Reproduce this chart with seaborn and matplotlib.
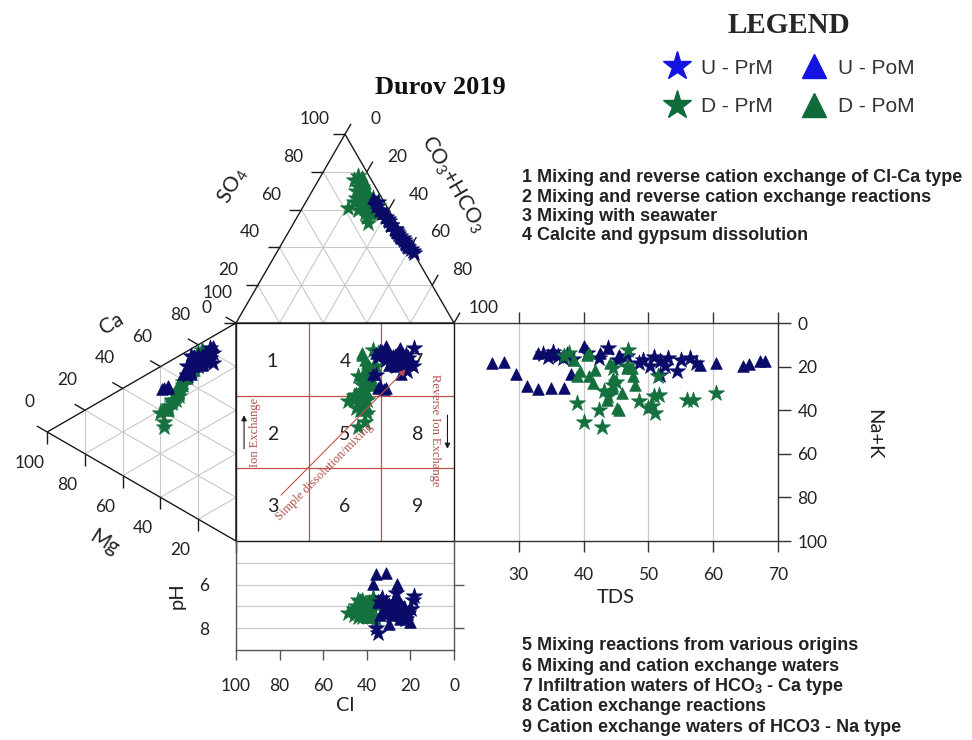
import numpy as np
import pandas as pd
import matplotlib
matplotlib.use("Agg")
import matplotlib.pyplot as plt
import seaborn as sns
from matplotlib.transforms import Affine2D, offset_copy
from matplotlib.lines import Line2D
from matplotlib.font_manager import FontProperties

sns.set_theme(style="white")
plt.rcParams['font.family'] = ['Lato', 'DejaVu Sans']
plt.rcParams['mathtext.fontset'] = 'custom'
plt.rcParams['mathtext.rm'] = 'Lato'
plt.rcParams['mathtext.it'] = 'Lato:italic'
plt.rcParams['mathtext.bf'] = 'Liberation Sans:bold'

# ---------------- data (percent meq, TDS, pH) ----------------
# U - PrM (blue stars)
upr_so4 = [55, 50, 60, 45, 52, 42, 48, 58, 40, 37, 46, 54, 44, 38, 50, 47, 41, 56, 43, 39, 62, 52, 64, 49]
upr_cl = [3, 2, 4, 1, 3, 1, 2, 4, 1, 0, 2, 3, 1, 0, 2, 2, 1, 3, 1, 0, 5, 3, 3, 2]
upr_mg = [16, 18, 14, 20, 22, 16, 20, 12, 22, 14, 18, 24, 16, 26, 20, 14, 24, 18, 20, 22, 26, 12, 16, 20]
upr_nak = [6.0, 6.5, 6.5, 5.0, 5.0, 6.5, 6.5, 7.8, 5.0, 4.4, 7.9, 3.3, 8.9, 6.9, 7.6, 9.1, 10.2, 7.9, 6.1, 7.4, 10.7, 12.5, 7.5, 9.5]
upr_tds = [33.8, 34.5, 35.3, 36.0, 36.8, 37.5, 38.4, 40.5, 42.3, 43.8, 45.3, 46.7, 49.2, 50.3, 51.8, 53.1, 54.4, 55.1, 56.4, 57.4, 51.8, 48.5, 50.8, 52.5]
upr_ph = [7.2, 7.0, 6.8, 7.4, 7.1, 7.6, 6.9, 6.6, 7.3, 6.5, 7.5, 7.0, 7.5, 6.7, 7.2, 7.3, 7.4, 6.8, 7.6, 7.1, 8.0, 7.4, 8.2, 6.4]

# U - PoM (blue triangles)
upo_so4 = [48, 52, 45, 60, 58, 62, 56, 64, 58, 66, 50, 46, 42, 50, 40, 46, 44, 54, 48, 52]
upo_cl = [2, 3, 2, 4, 3, 4, 3, 4, 2, 4, 1, 2, 1, 2, 0, 1, 1, 3, 2, 2]
upo_mg = [20, 18, 28, 36, 39, 38, 36, 14, 12, 24, 16, 14, 20, 22, 18, 16, 20, 18, 16, 20]
upo_nak = [8.4, 8.9, 9.4, 10.7, 10.8, 10.9, 11.6, 6.8, 4.7, 11.4, 5.6, 4.5, 8.4, 8.5, 9.7, 9.6, 7.3, 10.2, 6.0, 4.5]
upo_tds = [25.9, 27.7, 29.6, 31.3, 32.9, 34.9, 36.9, 32.9, 40.1, 38.0, 42.6, 43.8, 60.5, 64.6, 65.6, 67.2, 68.0, 58.0, 35.0, 45.5]
upo_ph = [7.0, 7.2, 6.9, 7.4, 7.1, 6.8, 7.3, 5.5, 5.45, 5.95, 5.95, 7.6, 7.5, 6.6, 7.7, 7.2, 7.0, 7.8, 6.7, 7.4]

# D - PrM (green stars)
dpr_so4 = [62, 62, 58, 66, 60, 72, 64, 76, 60, 66, 61, 70, 56, 78, 66, 72, 60, 64, 68, 64, 53, 70, 58]
dpr_cl = [4, 12, 12, 10, 14, 6, 10, 8, 6, 4, 18, 10, 12, 5, 12, 8, 10, 14, 8, 5, 13, 7, 6]
dpr_mg = [20, 34, 38, 36, 38, 30, 28, 32, 22, 18, 34, 36, 40, 30, 32, 26, 34, 32, 30, 24, 28, 36, 20]
dpr_nak = [3.8, 19.7, 26.5, 21.8, 28.5, 16.4, 14.3, 17.7, 8.9, 3.3, 18.7, 21.0, 21.3, 18.4, 16.9, 11.5, 18.2, 19.2, 17.2, 8.5, 13.0, 20.0, 5.0]
dpr_tds = [37.7, 39.0, 40.0, 42.3, 42.8, 43.1, 44.6, 43.8, 46.7, 46.9, 48.5, 50.0, 51.0, 50.9, 51.6, 51.5, 55.9, 56.9, 60.5, 44.6, 45.0, 50.5, 37.0]
dpr_ph = [7.0, 7.3, 7.1, 6.8, 7.2, 7.5, 6.9, 7.4, 7.6, 6.6, 7.3, 7.0, 7.4, 6.7, 7.2, 7.5, 6.9, 7.1, 7.3, 6.6, 7.0, 7.2, 6.8]

# D - PoM (green triangles)
dpo_so4 = [70, 66, 72, 62, 68, 64, 74, 60, 66, 62, 76, 70, 64, 58, 72, 68, 78, 56, 66, 74]
dpo_cl = [6, 8, 5, 9, 7, 6, 5, 10, 9, 11, 4, 5, 7, 8, 6, 5, 3, 12, 6, 4]
dpo_mg = [24, 26, 22, 28, 30, 26, 30, 32, 34, 36, 20, 22, 22, 30, 26, 24, 18, 38, 24, 20]
dpo_nak = [10.2, 11.5, 10.5, 10.5, 12.6, 12.3, 14.9, 16.2, 18.2, 21.8, 4.6, 7.4, 8.9, 13.3, 11.5, 8.7, 4.8, 20.0, 8.7, 7.0]
dpo_tds = [39.5, 40.8, 41.8, 39.0, 41.5, 44.6, 44.4, 45.9, 43.6, 45.4, 40.5, 44.1, 46.9, 48.0, 47.7, 46.7, 40.8, 45.1, 47.4, 38.5]
dpo_ph = [7.1, 6.9, 7.3, 7.0, 7.4, 6.8, 7.2, 7.5, 7.0, 7.3, 6.6, 7.1, 6.7, 7.4, 7.0, 6.9, 7.2, 7.5, 7.3, 6.8]

group_names = ["U - PrM", "U - PoM", "D - PrM", "D - PoM"]
zone_labels = ["1", "2", "3", "4", "5", "6", "7", "8", "9"]
tds_ticks = [30, 40, 50, 60, 70]
nak_ticks = [0, 20, 40, 60, 80, 100]
cl_ticks = [100, 80, 60, 40, 20, 0]
ph_major = [6, 8]
ph_minor = [5, 7]
tri_ticks = [0, 20, 40, 60, 80, 100]

notes_top = ["1 Mixing and reverse cation exchange of Cl-Ca type",
             "2 Mixing and reverse cation exchange reactions",
             "3 Mixing with seawater",
             "4 Calcite and gypsum dissolution"]
notes_bottom = ["5 Mixing reactions from various origins",
                "6 Mixing and cation exchange waters",
                r"7 Infiltration waters of HCO$_\mathbf{3}$ - Ca type",
                "8 Cation exchange reactions",
                "9 Cation exchange waters of HCO3 - Na type"]


def make_group(name, so4, cl, mg, nak, tds, ph):
    d = pd.DataFrame({"so4": so4, "cl": cl, "mg": mg, "nak": nak, "tds": tds, "ph": ph})
    d["hco3"] = 100 - d["so4"] - d["cl"]
    d["ca"] = 100 - d["mg"] - d["nak"]
    d["clp"] = d["cl"] + d["so4"] / 2      # Durov projection of anion point
    d["yp"] = d["nak"] + d["mg"] / 2       # Durov projection of cation point
    d["group"] = name
    return d


df = pd.concat([
    make_group("U - PrM", upr_so4, upr_cl, upr_mg, upr_nak, upr_tds, upr_ph),
    make_group("U - PoM", upo_so4, upo_cl, upo_mg, upo_nak, upo_tds, upo_ph),
    make_group("D - PrM", dpr_so4, dpr_cl, dpr_mg, dpr_nak, dpr_tds, dpr_ph),
    make_group("D - PoM", dpo_so4, dpo_cl, dpo_mg, dpo_nak, dpo_tds, dpo_ph),
], ignore_index=True)

NAVY = "#0a0a68"
GREEN = "#14703d"
style = {
    "U - PrM": dict(marker="*", color=NAVY, s=150),
    "U - PoM": dict(marker="^", color=NAVY, s=70),
    "D - PrM": dict(marker="*", color=GREEN, s=150),
    "D - PoM": dict(marker="^", color=GREEN, s=70),
}
order_main = ["D - PoM", "D - PrM", "U - PoM", "U - PrM"]
order_tds = ["U - PoM", "U - PrM", "D - PoM", "D - PrM"]

GRID = "#c9c9c9"
RED = "#c0504d"
TXT = "#222222"

# ---------------- figure & geometry ----------------
W, H = 972, 740
fig = plt.figure(figsize=(W / 100, H / 100), dpi=100)
ax = fig.add_axes([0, 0, 1, 1])
ax.set_xlim(0, W)
ax.set_ylim(H, 0)
ax.set_autoscale_on(False)
ax.axis("off")

L, T, S = 236.0, 323.0, 218.0
h = S * np.sqrt(3) / 2
# anion triangle: (HCO3, SO4) -> page
top_T = Affine2D(np.array([[S / 100, S / 200, L], [0, -h / 100, T], [0, 0, 1]])) + ax.transData
# cation triangle: (Mg, Na+K) -> page
left_T = Affine2D(np.array([[-h / 100, 0, L], [S / 200, S / 100, T], [0, 0, 1]])) + ax.transData


def seg(p, q, tr, **kw):
    ax.plot([p[0], q[0]], [p[1], q[1]], transform=tr, solid_capstyle="butt", **kw)


# --- anion triangle ---
for k in (20, 40, 60, 80):
    seg((0, k), (100 - k, k), top_T, color=GRID, lw=0.8)
    seg((k, 0), (k, 100 - k), top_T, color=GRID, lw=0.8)
    seg((100 - k, 0), (0, 100 - k), top_T, color=GRID, lw=0.8)
ax.plot([0, 100, 0, 0], [0, 0, 100, 0], transform=top_T, color="k", lw=1)
so4_lab_T = offset_copy(top_T, fig=fig, x=-30, y=15, units="dots")
hco3_lab_T = offset_copy(top_T, fig=fig, x=30, y=15, units="dots")
for k in tri_ticks:
    seg((0, k), (-5.5, k), top_T, color="k", lw=1)
    seg((k, 100 - k), (k, 105.5 - k), top_T, color="k", lw=1)
    ax.text(0, k, str(k), transform=so4_lab_T, ha="center", va="center", fontsize=12.5, color=TXT)
    ax.text(k, 100 - k, str(k), transform=hco3_lab_T, ha="center", va="center", fontsize=12.5, color=TXT)

# --- cation triangle ---
for k in (20, 40, 60, 80):
    seg((k, 0), (k, 100 - k), left_T, color=GRID, lw=0.8)
    seg((0, k), (100 - k, k), left_T, color=GRID, lw=0.8)
    seg((100 - k, 0), (0, 100 - k), left_T, color=GRID, lw=0.8)
ax.plot([0, 100, 0, 0], [0, 0, 100, 0], transform=left_T, color="k", lw=1)
ca_lab_T = offset_copy(left_T, fig=fig, x=-18, y=30, units="dots")
mg_lab_T = offset_copy(left_T, fig=fig, x=-18, y=-31, units="dots")
for k in tri_ticks:
    seg((100 - k, 0), (105.5 - k, -5.5), left_T, color="k", lw=1)
    seg((k, 100 - k), (k, 105.5 - k), left_T, color="k", lw=1)
    ax.text(100 - k, 0, str(k), transform=ca_lab_T, ha="center", va="center", fontsize=12.5, color=TXT)
    if k > 0:
        ax.text(k, 100 - k, str(k), transform=mg_lab_T, ha="center", va="center", fontsize=12.5, color=TXT)

# triangle axis titles
ax.text(233, 186, r"SO$_4$", rotation=60, ha="center", va="center", fontsize=15, color=TXT)
ax.text(453, 184, r"CO$_3$+HCO$_3$", rotation=-60, ha="center", va="center", fontsize=15, color=TXT)
ax.text(112, 324, "Ca", rotation=30, ha="center", va="center", fontsize=15, color=TXT)
ax.text(104, 543, "Mg", rotation=-32, ha="center", va="center", fontsize=15, color=TXT)

# triangle points
for g in order_main:
    d = df[df.group == g]
    st = style[g]
    ax.scatter(d["hco3"], d["so4"], transform=top_T, marker=st["marker"], s=st["s"],
               color=st["color"], edgecolor=st["color"], linewidth=0.5, zorder=3)
    ax.scatter(d["mg"], d["nak"], transform=left_T, marker=st["marker"], s=st["s"],
               color=st["color"], edgecolor=st["color"], linewidth=0.5, zorder=3)

# ---------------- central square ----------------
sq = fig.add_axes([L / W, 1 - (T + S) / H, S / W, S / H])
sq.set_facecolor("none")
for v in (100 / 3, 200 / 3):
    sq.axvline(v, color=RED, lw=0.9, zorder=1)
    sq.axhline(v, color=RED, lw=0.9, zorder=1)
centers = [100 / 6, 50, 500 / 6]
i = 0
for cx in centers[::-1]:
    for cy in centers:
        sq.text(cx, cy + 1, zone_labels[i], ha="center", va="center", fontsize=14, color=TXT)
        i += 1
for g in order_main:
    d = df[df.group == g]
    st = style[g]
    sns.scatterplot(x=d["clp"].values, y=d["yp"].values, ax=sq, marker=st["marker"], s=st["s"],
                    color=st["color"], edgecolor=st["color"], linewidth=0.5, zorder=3, legend=False)
sq.set_xlim(100, 0)
sq.set_ylim(100, 0)
sq.set_xticks([])
sq.set_yticks([])
for sp in sq.spines.values():
    sp.set_color("k")
    sp.set_linewidth(1)

# Ion exchange (left, arrow up) and reverse ion exchange (right, arrow down)
sq.annotate("", xy=(96.3, 41), xytext=(96.3, 59),
            arrowprops=dict(arrowstyle="-|>", color="k", lw=0.8, mutation_scale=8))
sq.annotate("", xy=(3.0, 59), xytext=(3.0, 41),
            arrowprops=dict(arrowstyle="-|>", color="k", lw=0.8, mutation_scale=8))
sq.text(91.3, 50, "Ion Exchange", rotation=90, ha="center", va="center", fontsize=9,
        color="#b0504a", family="Liberation Serif")
sq.text(8.6, 49, "Reverse Ion Exchange", rotation=270, ha="center", va="center", fontsize=9,
        color="#b0504a", family="Liberation Serif")
sq.annotate("", xy=(21.3, 20.4), xytext=(80.2, 79.8),
            arrowprops=dict(arrowstyle="-|>", color="#c4504a", lw=0.8, mutation_scale=9))
sq.text(59.5, 68.5, "Simple dissolution/mixing", rotation=45, ha="center", va="center", fontsize=9,
        color="#b0504a", family="Liberation Serif")

# ---------------- TDS panel ----------------
tds_ax = fig.add_axes([(L + S) / W, 1 - (T + S) / H, 324 / W, S / H])
tds_ax.set_facecolor("none")
for g in order_tds:
    d = df[df.group == g]
    st = style[g]
    sns.scatterplot(x=d["tds"].values, y=d["yp"].values, ax=tds_ax, marker=st["marker"], s=st["s"],
                    color=st["color"], edgecolor=st["color"], linewidth=0.5, zorder=3, legend=False)
tds_ax.set_xlim(20, 70)
tds_ax.set_ylim(100, 0)
tds_ax.set_xticks(tds_ticks)
tds_ax.set_yticks(nak_ticks)
tds_ax.grid(axis="x", color=GRID, lw=0.9)
tds_ax.grid(axis="y", visible=False)
tds_ax.spines["left"].set_visible(False)
for s_ in ("top", "right", "bottom"):
    tds_ax.spines[s_].set_color("#333333")
    tds_ax.spines[s_].set_linewidth(1)
tds_ax.tick_params(axis="x", which="major", bottom=True, top=True, labelbottom=True, labeltop=False,
                   direction="out", length=8, width=1, color="#333333", pad=11, labelsize=12.5,
                   labelcolor=TXT)
tds_ax.tick_params(axis="y", which="major", left=False, right=True, labelleft=False, labelright=True,
                   direction="out", length=9, width=1, color="#333333", pad=5, labelsize=12.5,
                   labelcolor=TXT)
tds_ax.set_xlabel("TDS", fontsize=14.5, color=TXT, labelpad=4)
tds_ax.set_ylabel("Na+K", fontsize=14.5, color=TXT, rotation=270)
tds_ax.yaxis.set_label_position("right")
tds_ax.yaxis.set_label_coords(1.32, 0.49)

# ---------------- pH panel ----------------
ph_ax = fig.add_axes([L / W, 1 - 650 / H, S / W, (650 - T - S) / H])
ph_ax.set_facecolor("none")
for g in order_main:
    d = df[df.group == g]
    st = style[g]
    sns.scatterplot(x=d["clp"].values, y=d["ph"].values, ax=ph_ax, marker=st["marker"], s=st["s"],
                    color=st["color"], edgecolor=st["color"], linewidth=0.5, zorder=3, legend=False)
ph_ax.set_xlim(100, 0)
ph_ax.set_ylim(9, 4)
ph_ax.set_xticks(cl_ticks)
ph_ax.set_yticks(ph_major)
ph_ax.set_yticks(ph_minor, minor=True)
ph_ax.grid(axis="y", which="both", color=GRID, lw=0.9)
ph_ax.grid(axis="x", visible=False)
ph_ax.spines["top"].set_visible(False)
for s_ in ("left", "right", "bottom"):
    ph_ax.spines[s_].set_color("#555555")
    ph_ax.spines[s_].set_linewidth(1)
ph_ax.tick_params(axis="x", which="major", bottom=True, direction="out", length=7, width=1,
                  color="#555555", pad=13, labelsize=12.5, labelcolor=TXT)
ph_ax.tick_params(axis="y", which="major", left=False, right=True, labelleft=True, labelright=False,
                  direction="out", length=7, width=1, color="#555555", pad=12, labelsize=12.5,
                  labelcolor=TXT)
ph_ax.tick_params(axis="y", which="minor", left=False, right=False)
ph_ax.set_xlabel("Cl", fontsize=14.5, color=TXT, labelpad=2)
ph_ax.set_ylabel("pH", fontsize=14.5, color=TXT, labelpad=2)
ph_ax.yaxis.set_label_coords(-0.23, 0.5)

# ---------------- titles, notes, legend ----------------
ax.text(440, 87, "Durov 2019", ha="center", va="center", fontsize=19, fontweight="bold",
        family="Liberation Serif", color="#111111")
for j, line in enumerate(notes_top):
    ax.text(522, 178 + j * 19.3, line, ha="left", va="center", fontsize=13, fontweight="bold",
            family="Liberation Sans", color="#222222")
for j, line in enumerate(notes_bottom):
    ax.text(522, 646 + j * 20.3, line, ha="left", va="center", fontsize=13, fontweight="bold",
            family="Liberation Sans", color="#222222")

LB = "#1414e0"
LG = "#0f6b3a"
handles = [Line2D([], [], ls="", marker="*", ms=21, color=LB, mec=LB),
           Line2D([], [], ls="", marker="*", ms=21, color=LG, mec=LG),
           Line2D([], [], ls="", marker="^", ms=17, color=LB, mec=LB),
           Line2D([], [], ls="", marker="^", ms=17, color=LG, mec=LG)]
labels = ["U - PrM", "D - PrM", "U - PoM", "D - PoM"]
leg = fig.legend(handles, labels, ncol=2, loc="upper center", bbox_to_anchor=(789 / W, 1 + 7 / H),
                 frameon=False, title="LEGEND",
                 title_fontproperties=FontProperties(family="Liberation Serif", weight="bold", size=21),
                 prop=FontProperties(family="Liberation Sans", size=15),
                 handletextpad=0.5, columnspacing=1.3, labelspacing=0.95, handlelength=1.3)
for t in leg.get_texts():
    t.set_color("#333333")

fig.savefig("out.png", dpi=100, facecolor="white")
